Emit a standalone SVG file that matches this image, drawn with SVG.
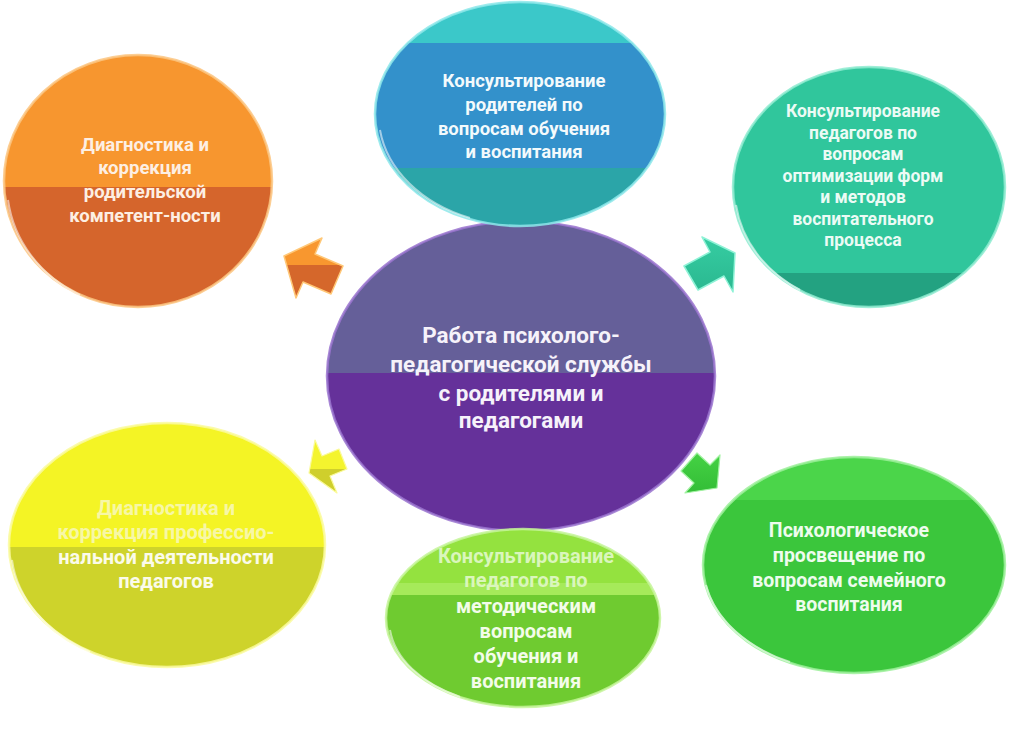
<svg xmlns="http://www.w3.org/2000/svg" width="1024" height="729" viewBox="0 0 1024 729">
<style>
text{font-family:Roboto,"Liberation Sans",sans-serif;font-weight:700;text-anchor:middle}
.rim{fill:none;stroke-width:2.5;stroke-opacity:0.85}
.hl{fill:none;stroke:#FFFFFF;stroke-width:2;stroke-opacity:0.55}
</style>
<defs>
<clipPath id="cCenter"><ellipse cx="521" cy="376" rx="194" ry="155"/></clipPath>
<clipPath id="cTop"><ellipse cx="520" cy="114" rx="145" ry="112"/></clipPath>
<clipPath id="cOrange"><ellipse cx="138" cy="181" rx="134" ry="126"/></clipPath>
<clipPath id="cTeal"><ellipse cx="869" cy="187" rx="136" ry="120"/></clipPath>
<clipPath id="cYellow"><ellipse cx="167" cy="545" rx="158" ry="122"/></clipPath>
<clipPath id="cGreenB"><ellipse cx="523" cy="618" rx="137" ry="89"/></clipPath>
<clipPath id="cGreenR"><ellipse cx="854" cy="565" rx="151" ry="108"/></clipPath>
<linearGradient id="gOr" x1="0" y1="0" x2="0" y2="1"><stop offset="0.45" stop-color="#F8972F"/><stop offset="0.45" stop-color="#D5672B"/></linearGradient>
<linearGradient id="gTe" x1="0" y1="0" x2="0" y2="1"><stop offset="0" stop-color="#36CDA2"/><stop offset="1" stop-color="#2AB890"/></linearGradient>
<linearGradient id="gYe" x1="0" y1="0" x2="0" y2="1"><stop offset="0.55" stop-color="#F4F42E"/><stop offset="0.55" stop-color="#CFCF2C"/></linearGradient>
<linearGradient id="gGr" x1="0" y1="0" x2="0" y2="1"><stop offset="0" stop-color="#45D244"/><stop offset="1" stop-color="#33BD36"/></linearGradient>
</defs>
<rect width="1024" height="729" fill="#FFFFFF"/>

<g id="connectors">
<polygon points="284,256 322,238 315,254 343,266 331,294 303,282 296,298" fill="url(#gOr)" stroke="#FFC878" stroke-width="1.5" stroke-linejoin="round"/>
<polygon points="735,253 733,292 724,276 698,290 684,266 710,252 702,237" fill="url(#gTe)" stroke="#8EF2D6" stroke-width="1.5" stroke-linejoin="round"/>
<polygon points="309,473 315,440 322,456 339,449 347,469 330,476 337,493" fill="url(#gYe)" stroke="#FAFA9A" stroke-width="1.2" stroke-linejoin="round"/>
<polygon points="717,488 685,493 694,483 681,471 697,453 710,465 720,455" fill="url(#gGr)" stroke="#A0F2A0" stroke-width="1.2" stroke-linejoin="round"/>
</g>

<g id="center">
<g clip-path="url(#cCenter)">
<rect x="320" y="215" width="400" height="160" fill="#655F99"/>
<rect x="320" y="373" width="400" height="165" fill="#65319A"/>
</g>
<ellipse cx="521" cy="376" rx="194" ry="155" class="rim" stroke="#9A74CF"/>
<text x="521" y="343" font-size="22.5" fill="#F6F2FA">Работа психолого-</text>
<text x="521" y="372" font-size="22.5" fill="#F6F2FA">педагогической службы</text>
<text x="521" y="401" font-size="22.5" fill="#F6F2FA">с родителями и</text>
<text x="521" y="428" font-size="22.5" fill="#F6F2FA">педагогами</text>
</g>

<g id="top">
<g clip-path="url(#cTop)">
<rect x="370" y="0" width="300" height="44" fill="#3BC8C9"/>
<rect x="370" y="43" width="300" height="126" fill="#3391CB"/>
<rect x="370" y="168" width="300" height="62" fill="#2BA5A8"/>
</g>
<ellipse cx="520" cy="114" rx="145" ry="112" class="rim" stroke="#8DE8EA"/>
<path class="hl" d="M380,130 A143,110 0 0 0 470,218"/>
<text x="524" y="87" font-size="18.5" fill="#F3FAFC">Консультирование</text>
<text x="524" y="111" font-size="18.5" fill="#F3FAFC">родителей по</text>
<text x="524" y="135" font-size="18.5" fill="#F3FAFC">вопросам обучения</text>
<text x="524" y="158" font-size="18.5" fill="#F3FAFC">и воспитания</text>
</g>

<g id="orange">
<g clip-path="url(#cOrange)">
<rect x="0" y="50" width="280" height="138" fill="#F7962F"/>
<rect x="0" y="187" width="280" height="125" fill="#D5652C"/>
</g>
<ellipse cx="138" cy="181" rx="134" ry="126" class="rim" stroke="#FCC581"/>
<path class="hl" d="M8,200 A132,124 0 0 0 80,295"/>
<text x="145" y="151" font-size="18.5" fill="#FDEFE3">Диагностика и</text>
<text x="145" y="174" font-size="18.5" fill="#FDEFE3">коррекция</text>
<text x="145" y="198" font-size="18.5" fill="#FDEFE3">родительской</text>
<text x="145" y="222" font-size="18.5" fill="#FDEFE3">компетент-ности</text>
</g>

<g id="teal">
<g clip-path="url(#cTeal)">
<rect x="730" y="60" width="280" height="214" fill="#30C69C"/>
<rect x="730" y="273" width="280" height="40" fill="#23A281"/>
</g>
<ellipse cx="869" cy="187" rx="136" ry="120" class="rim" stroke="#8EEBD0"/>
<path class="hl" d="M736,205 A134,118 0 0 0 800,290"/>
<text x="863" y="117" font-size="17.5" fill="#ECFBF5">Консультирование</text>
<text x="863" y="138.5" font-size="17.5" fill="#ECFBF5">педагогов по</text>
<text x="863" y="160" font-size="17.5" fill="#ECFBF5">вопросам</text>
<text x="863" y="181.5" font-size="17.5" fill="#ECFBF5">оптимизации форм</text>
<text x="863" y="203" font-size="17.5" fill="#ECFBF5">и методов</text>
<text x="863" y="224.5" font-size="17.5" fill="#ECFBF5">воспитательного</text>
<text x="863" y="246" font-size="17.5" fill="#ECFBF5">процесса</text>
</g>

<g id="yellow">
<g clip-path="url(#cYellow)">
<rect x="0" y="420" width="330" height="128" fill="#F4F425"/>
<rect x="0" y="547" width="330" height="125" fill="#CED32B"/>
</g>
<ellipse cx="167" cy="545" rx="158" ry="122" class="rim" stroke="#FAFA9E"/>
<path class="hl" d="M12,560 A156,120 0 0 0 90,652"/>
<text x="166" y="515" font-size="20" fill="#F7F7A6">Диагностика и</text>
<text x="166" y="539" font-size="20" fill="#F7F7A6">коррекция профессио-</text>
<text x="166" y="564" font-size="20" fill="#FBFBEA">нальной деятельности</text>
<text x="166" y="588" font-size="20" fill="#FBFBEA">педагогов</text>
</g>

<g id="green-bottom">
<g clip-path="url(#cGreenB)">
<rect x="380" y="525" width="290" height="59" fill="#94E23F"/>
<rect x="380" y="583" width="290" height="13" fill="#A6EA5A"/>
<rect x="380" y="595" width="290" height="120" fill="#6FCB30"/>
</g>
<ellipse cx="523" cy="618" rx="137" ry="89" class="rim" stroke="#C6F59A"/>
<path class="hl" d="M390,630 A135,87 0 0 0 460,697"/>
<text x="526" y="563" font-size="20" fill="#DAF6BC">Консультирование</text>
<text x="526" y="587" font-size="20" fill="#DAF6BC">педагогов по</text>
<text x="526" y="613" font-size="20" fill="#F3FCEA">методическим</text>
<text x="526" y="638" font-size="20" fill="#F3FCEA">вопросам</text>
<text x="526" y="663" font-size="20" fill="#F3FCEA">обучения и</text>
<text x="526" y="688" font-size="20" fill="#F3FCEA">воспитания</text>
</g>

<g id="green-right">
<g clip-path="url(#cGreenR)">
<rect x="700" y="455" width="310" height="46" fill="#4BD54A"/>
<rect x="700" y="500" width="310" height="175" fill="#3BC63C"/>
</g>
<ellipse cx="854" cy="565" rx="151" ry="108" class="rim" stroke="#9CF09A"/>
<path class="hl" d="M706,585 A149,106 0 0 0 790,662"/>
<text x="849" y="537" font-size="19.5" fill="#EEFCEE">Психологическое</text>
<text x="849" y="562" font-size="19.5" fill="#EEFCEE">просвещение по</text>
<text x="849" y="587" font-size="19.5" fill="#EEFCEE">вопросам семейного</text>
<text x="849" y="611" font-size="19.5" fill="#EEFCEE">воспитания</text>
</g>
</svg>
